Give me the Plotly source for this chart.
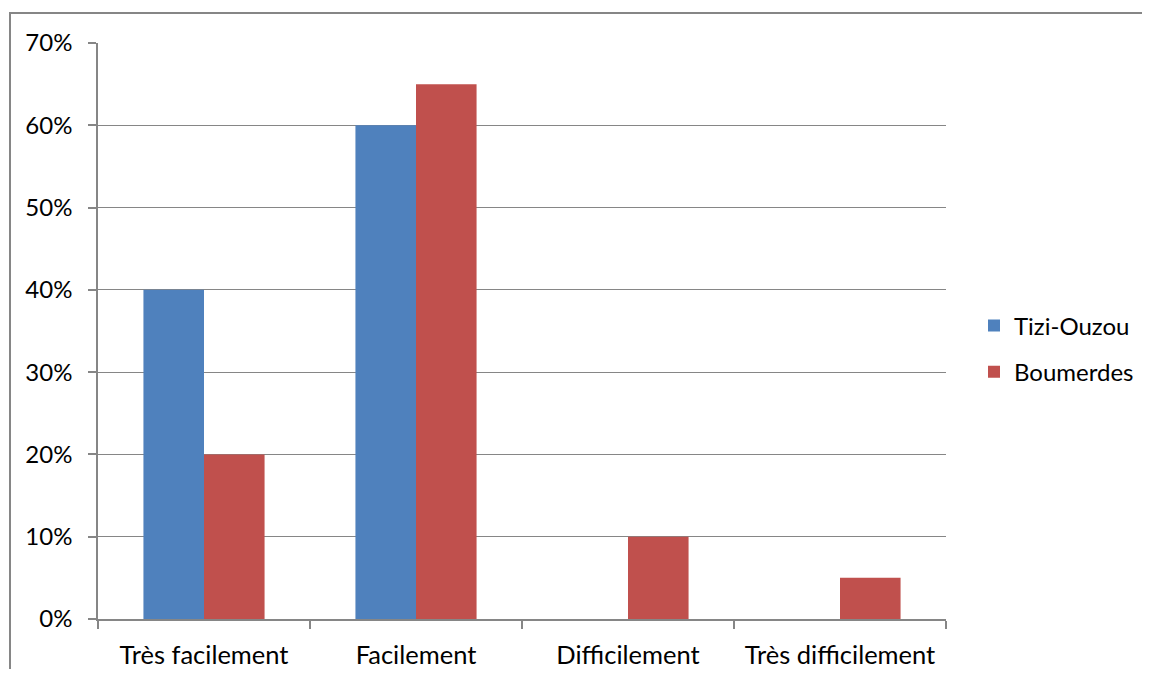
import plotly.graph_objects as go

categories = ["Très facilement", "Facilement", "Difficilement", "Très difficilement"]
tizi_ouzou = [0.40, 0.60, 0.0, 0.0]
boumerdes = [0.20, 0.65, 0.10, 0.05]
y_ticks = [0, 0.1, 0.2, 0.3, 0.4, 0.5, 0.6, 0.7]
y_tick_labels = ["0%", "10%", "20%", "30%", "40%", "50%", "60%", "70%"]

GRAY = "#868686"
FONT = "Lato, Carlito, Calibri, sans-serif"

fig = go.Figure()
fig.add_trace(go.Bar(x=categories, y=tizi_ouzou, name="Tizi-Ouzou",
                     marker=dict(color="#4F81BD", line=dict(width=0)), legendgroup="a"))
fig.add_trace(go.Bar(x=categories, y=boumerdes, name="Boumerdes",
                     marker=dict(color="#C0504D", line=dict(width=0)), legendgroup="b"))

OFF = 8  # page body margin (each side)
W, H = 1150 - 2 * OFF, 677 - 2 * OFF
L, T = 98 - OFF, 43 - OFF
R = (1150 - OFF) - 946
B = (677 - OFF) - 619
pw, ph = W - L - R, H - T - B

def px(x):
    return (x - OFF - L) / pw

def py(y):
    return (H - B - (y - OFF)) / ph

fig.update_layout(
    template="none",
    width=W, height=H,
    margin=dict(l=L, r=R, t=T, b=B, pad=0, autoexpand=False),
    paper_bgcolor="white", plot_bgcolor="white",
    barmode="group", bargap=1.5 / 3.5, bargroupgap=0,
    font=dict(family=FONT, size=24, color="#000000"),
    showlegend=True,
    legend=dict(x=px(974), y=py(349), xanchor="left", yanchor="middle",
                font=dict(size=24), traceorder="grouped", tracegroupgap=12,
                bgcolor="rgba(0,0,0,0)", borderwidth=0),
    xaxis=dict(showline=True, linecolor=GRAY, linewidth=1.5, ticks="outside",
               tickson="boundaries", ticklen=8, tickcolor=GRAY, tickwidth=1.5,
               showgrid=False, ticklabelstandoff=13, tickfont=dict(size=25.5),
               automargin=False),
    yaxis=dict(range=[0, 0.7], tickvals=y_ticks, ticktext=y_tick_labels,
               showline=True, linecolor=GRAY, linewidth=1.5, ticks="outside",
               ticklen=8, tickcolor=GRAY, tickwidth=1.5, showgrid=True,
               gridcolor=GRAY, gridwidth=1.2, zeroline=False, ticklabelstandoff=11,
               automargin=False),
    shapes=[dict(type="path", xref="paper", yref="paper",
                 path=f"M {px(10)} {py(700)} L {px(10)} {py(13)} L {px(1200)} {py(13)}",
                 line=dict(color=GRAY, width=2), layer="above")],
)

fig.write_html("out.html")
